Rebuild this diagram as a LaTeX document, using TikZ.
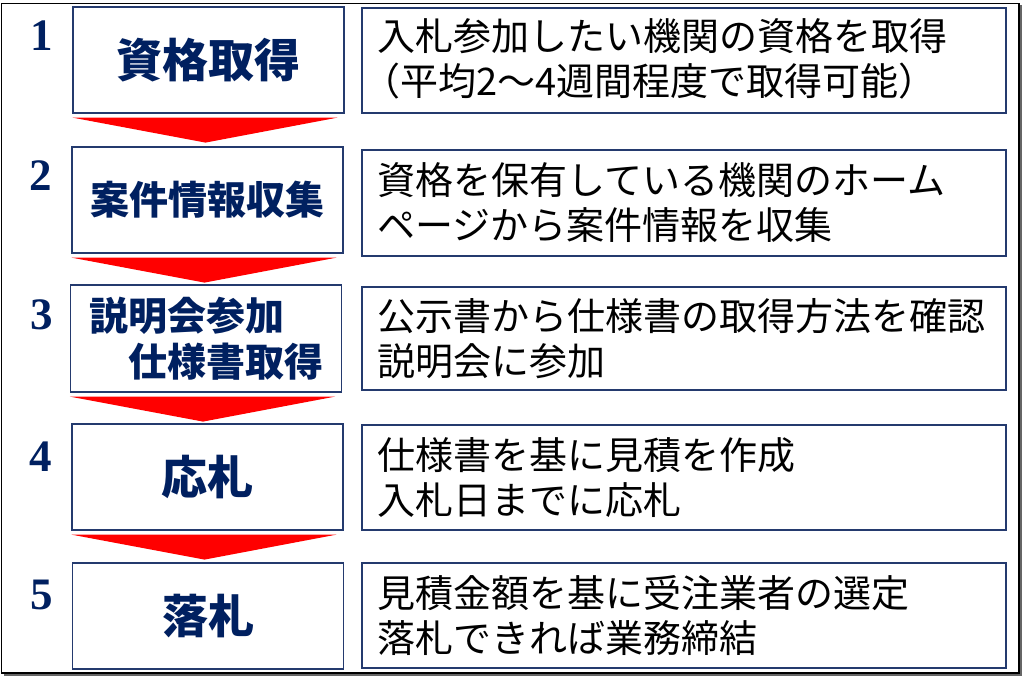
\documentclass[tikz,border=0pt]{standalone}
\usepackage{fontspec}
\setmainfont{Liberation Serif}
\newfontfamily\jpfont{Noto Sans CJK JP}
\usetikzlibrary{calc}
\definecolor{navy}{RGB}{0,32,96}
\definecolor{boxblue}{RGB}{36,58,110}
\definecolor{arrowred}{RGB}{255,0,0}
\tikzset{
  lbox/.style={draw=boxblue, line width=1.2pt, fill=white, minimum width=271pt, inner sep=0pt,
    text=navy, font=\jpfont\bfseries, align=left},
  rbox/.style={draw=boxblue, line width=1.2pt, fill=white, minimum width=644pt, inner sep=0pt},
  rtext/.style={anchor=west, inner sep=0pt, align=left, font=\jpfont\fontsize{38}{45}\selectfont},
  numlbl/.style={text=navy, inner sep=0pt, font=\bfseries\fontsize{45}{45}\selectfont},
  downarrow/.style={fill=arrowred}
}
\begin{document}
\begin{tikzpicture}[x=1pt,y=-1pt]
\useasboundingbox (0,0) rectangle (1024,677);
% frame
\draw[gray!80!black, line width=2pt] (4,674.5) -- (1020.5,674.5) -- (1020.5,5);
\draw[black, line width=1.6pt] (1.5,3.5) rectangle (1019,673);

% left boxes
\node[lbox, minimum height=106pt, font=\jpfont\bfseries\fontsize{46}{46}\selectfont] (L1) at (208.5,60) {資格取得};
\node[lbox, minimum height=106pt, font=\jpfont\bfseries\fontsize{39}{39}\selectfont] (L2) at (207.5,200) {案件情報収集};
\node[lbox, minimum height=107pt, font=\jpfont\bfseries\fontsize{39}{46}\selectfont] (L3) at (206,338.5) {説明会参加\\　仕様書取得};
\node[lbox, minimum height=106pt, font=\jpfont\bfseries\fontsize{46}{46}\selectfont] (L4) at (207.5,477) {応札};
\node[lbox, minimum height=106pt, font=\jpfont\bfseries\fontsize{46}{46}\selectfont] (L5) at (208,616) {落札};

% numbers
\node[numlbl] (N1) at (42,36) {1};
\node[numlbl] (N2) at (41,176) {2};
\node[numlbl] (N3) at (42,315) {3};
\node[numlbl] (N4) at (41,457) {4};
\node[numlbl] (N5) at (42,595) {5};

% right boxes
\node[rbox, minimum height=105pt] (R1) at (684,60.5) {};
\node[rbox, minimum height=106pt] (R2) at (684,203) {};
\node[rbox, minimum height=103pt] (R3) at (684,338.5) {};
\node[rbox, minimum height=105pt] (R4) at (684,477.5) {};
\node[rbox, minimum height=105pt] (R5) at (684,615.5) {};

\node[rtext] (T1) at ($(R1.west)+(16pt,2pt)$) {入札参加したい機関の資格を取得\\\hspace*{-0.4em}（平均2～4週間程度で取得可能）};
\node[rtext] (T2) at ($(R2.west)+(16pt,0)$) {資格を保有している機関のホーム\\ページから案件情報を収集};
\node[rtext] (T3) at ($(R3.west)+(16pt,0)$) {公示書から仕様書の取得方法を確認\\説明会に参加};
\node[rtext] (T4) at ($(R4.west)+(16pt,0)$) {仕様書を基に見積を作成\\入札日までに応札};
\node[rtext] (T5) at ($(R5.west)+(16pt,0)$) {見積金額を基に受注業者の選定\\落札できれば業務締結};

% red arrows
\foreach \a/\b in {L1/L2, L2/L3, L3/L4, L4/L5}{
  \fill[downarrow] ($(\a.south west)+(0,-4pt)$) -- ($(\a.south east)+(-7pt,-4pt)$)
     -- ($(\a.south)+(-3pt,-29pt)$) -- cycle;
}
\end{tikzpicture}
\end{document}
